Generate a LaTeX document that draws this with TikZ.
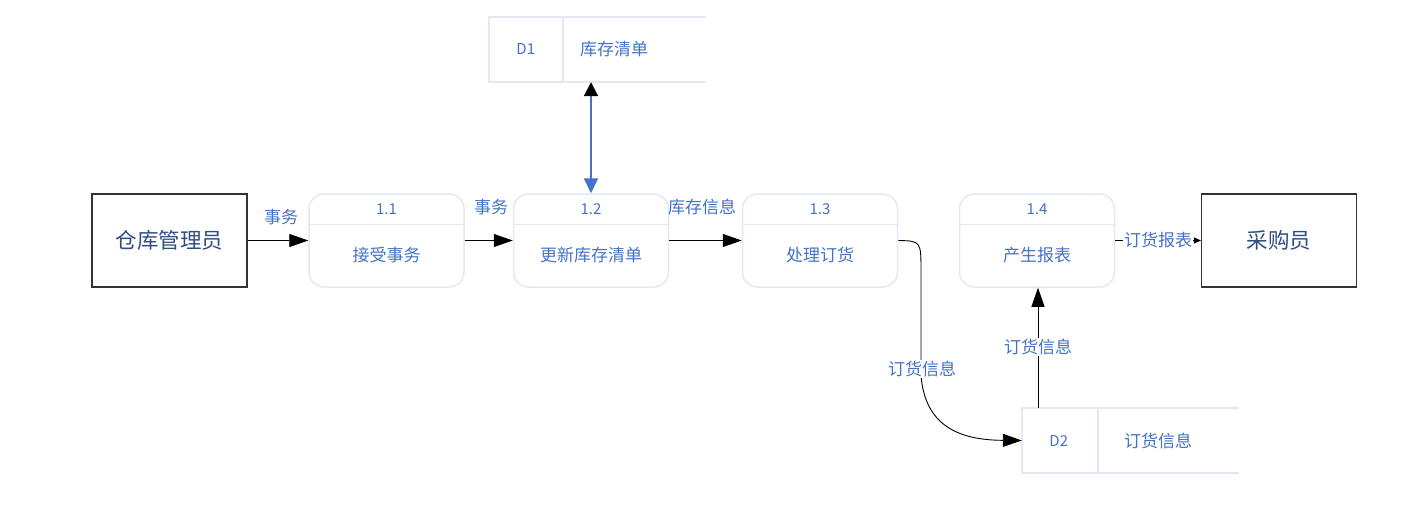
\documentclass[tikz,border=0pt]{standalone}
\usepackage{fontspec}
\setmainfont{Noto Sans CJK SC}
\usetikzlibrary{arrows.meta}
\definecolor{txtblue}{HTML}{4472C4}
\definecolor{entblue}{HTML}{2F4D7E}
\definecolor{pborder}{HTML}{E4E7F4}
\begin{document}
\begin{tikzpicture}[x=1pt,y=-1pt,
  entity/.style={draw=black!80, line width=1.1pt, minimum width=155pt, minimum height=93pt, inner sep=0pt, font=\fontsize{21.5}{25}\selectfont, text=entblue},
  proc/.style={draw=pborder, line width=1.5pt, rounded corners=15pt, minimum width=155pt, minimum height=93pt, inner sep=0pt},
  storebox/.style={minimum width=217pt, minimum height=65pt, inner sep=0pt},
  storeline/.style={draw=pborder, line width=2pt},
  lbl/.style={text=txtblue, font=\fontsize{17}{20}\selectfont, inner sep=1pt},
  num/.style={text=txtblue, font=\fontsize{15}{18}\selectfont, inner sep=1pt},
  flow/.style={-{Triangle[length=19pt,width=13pt]}, line width=0.9pt},
  smallflow/.style={-{Triangle[length=7pt,width=6pt]}, line width=0.9pt},
  bgl/.style={fill=white}
]
\useasboundingbox (0,0) rectangle (1402,522);

% entities
\node[entity] (e1) at (169.5,240.5) {仓库管理员};
\node[entity] (e2) at (1279,240.5) {采购员};

% processes
\foreach \n/\x/\num/\t in {p1/386.5/1.1/接受事务, p2/591/1.2/更新库存清单, p3/820/1.3/处理订货, p4/1037/1.4/产生报表}{
  \node[proc] (\n) at (\x,240.5) {};
  \draw[pborder, line width=1.5pt] ([yshift=-31pt]\n.north west) -- ([yshift=-31pt]\n.north east);
  \node[num] (\n num) at ([yshift=-16pt]\n.north) {\num};
  \node[lbl] (\n txt) at ([yshift=-62pt]\n.north) {\t};
}

% data stores
\node[storebox] (d1) at (597.5,49.5) {};
\draw[storeline] (d1.north east) -- (d1.north west) -- (d1.south west) -- (d1.south east);
\draw[storeline] ([xshift=74pt]d1.north west) -- ([xshift=74pt]d1.south west);
\node[num] (d1id) at ([xshift=37pt]d1.west) {D1};
\node[lbl, anchor=west] (d1nm) at ([xshift=90pt]d1.west) {库存清单};

\node[storebox] (d2) at (1130.5,440.5) {};
\draw[storeline] (d2.north east) -- (d2.north west) -- (d2.south west) -- (d2.south east);
\draw[storeline] ([xshift=76pt]d2.north west) -- ([xshift=76pt]d2.south west);
\node[num] (d2id) at ([xshift=37pt]d2.west) {D2};
\node[lbl, anchor=west] (d2nm) at ([xshift=101pt]d2.west) {订货信息};

% flows
\draw[flow] (e1) -- (p1);
\node[lbl] (l1) at (281,217) {事务};
\draw[flow] (p1) -- (p2);
\node[lbl] (l2) at (491,207) {事务};
\draw[flow] (p2) -- (p3);
\node[lbl] (l3) at (702,207) {库存信息};

\draw[smallflow] (p4) -- (e2) node[lbl, bgl, midway] (l4) {订货报表};

\draw[{Triangle[length=14pt,width=14pt,color=black]}-{Triangle[length=15pt,width=14pt]}, draw=txtblue, fill=txtblue, line width=2pt]
  (p2.north |- d1.south) -- (p2.north);

\coordinate (c1) at (921,272);
\coordinate (c2) at (921,375);
\draw[flow] (p3.east) .. controls (921,241) .. (c1) -- (c2) .. controls (925,430) and (965,440) .. (d2.west);
\node[lbl, bgl] (l5) at (922,369) {订货信息};

\coordinate (d2top) at (1038,408);
\draw[flow] (d2top) -- (d2top |- p4.south);
\node[lbl, bgl] (l6) at (1038,347) {订货信息};
\end{tikzpicture}
\end{document}
